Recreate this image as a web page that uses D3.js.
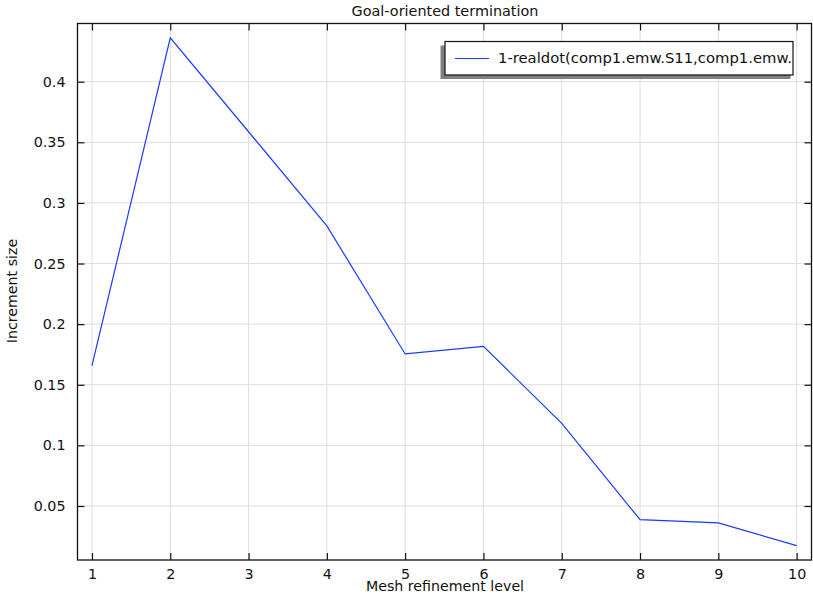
<!DOCTYPE html>
<html><head><meta charset="utf-8">
<script src="https://cdn.jsdelivr.net/npm/d3@7"></script>
<style>body{margin:0;background:#fff}svg{display:block;font-family:"DejaVu Sans",sans-serif}</style>
</head><body><svg id="c" width="813" height="596"></svg>
<script>
const levels = [1,2,3,4,5,6,7,8,9,10];
const increments = [0.1657,0.4362,0.3587,0.281,0.1754,0.1817,0.1182,0.0387,0.036,0.0173];
const xTicks = [1,2,3,4,5,6,7,8,9,10];
const yTicks = [0.05,0.1,0.15,0.2,0.25,0.3,0.35,0.4];
const title = "Goal-oriented termination";
const xLabel = "Mesh refinement level";
const yLabel = "Increment size";
const legendLabel = "1-realdot(comp1.emw.S11,comp1.emw.";

const svg = d3.select("#c");
const L=77.5, R=811.5, T=23.5, B=560;
const x = d3.scaleLinear().domain([0.815,10.19]).range([L,R]);
const y = d3.scaleLinear().domain([0.00545,0.448]).range([B,T]);

// grid
svg.append("g").selectAll("line").data(xTicks).join("line")
  .attr("x1",d=>x(d)).attr("x2",d=>x(d)).attr("y1",T).attr("y2",B)
  .attr("stroke","#dedede").attr("stroke-width",1);
svg.append("g").selectAll("line").data(yTicks).join("line")
  .attr("y1",d=>y(d)).attr("y2",d=>y(d)).attr("x1",L).attr("x2",R)
  .attr("stroke","#dedede").attr("stroke-width",1);

// axes with inward ticks
const fmt = d=>String(+d.toFixed(2));
const ax = (g,axis)=>{g.call(axis);g.select(".domain").remove();g.selectAll("text").attr("font-size",14.3).attr("font-family","DejaVu Sans").attr("fill","#111");g.selectAll(".tick line").attr("stroke","#111").attr("stroke-width",1.2);};
svg.append("g").attr("transform",`translate(0,${B})`).call(g=>ax(g,d3.axisBottom(x).tickValues(xTicks).tickFormat(d3.format("d")).tickSizeInner(-7).tickPadding(9)));
svg.append("g").attr("transform",`translate(0,${T})`).call(g=>ax(g,d3.axisTop(x).tickValues(xTicks).tickFormat("").tickSizeInner(-7)));
svg.append("g").attr("transform",`translate(${L},0)`).call(g=>ax(g,d3.axisLeft(y).tickValues(yTicks).tickFormat(fmt).tickSizeInner(-7).tickPadding(12)));
svg.append("g").attr("transform",`translate(${R},0)`).call(g=>ax(g,d3.axisRight(y).tickValues(yTicks).tickFormat("").tickSizeInner(-7)));

// frame
svg.append("rect").attr("x",L).attr("y",T).attr("width",R-L).attr("height",B-T)
  .attr("fill","none").attr("stroke","#111").attr("stroke-width",1.3);

// line
svg.append("path").datum(levels.map((l,i)=>[l,increments[i]]))
  .attr("d",d3.line().x(d=>x(d[0])).y(d=>y(d[1])))
  .attr("fill","none").attr("stroke","#1a3aff").attr("stroke-width",1.2);

// legend
const lg = svg.append("g");
lg.append("rect").attr("x",440.5).attr("y",45.5).attr("width",350).attr("height",33.5).attr("fill","#808080");
lg.append("rect").attr("x",445).attr("y",41.5).attr("width",348).attr("height",33.5).attr("fill","#fff").attr("stroke","#111").attr("stroke-width",1.2);
lg.append("line").attr("x1",455).attr("x2",489).attr("y1",58.5).attr("y2",58.5).attr("stroke","#1a3aff").attr("stroke-width",1.2);
lg.append("text").attr("x",498).attr("y",63).attr("font-size",14.8).attr("fill","#111").text(legendLabel);

// titles
svg.append("text").attr("x",445).attr("y",16).attr("text-anchor","middle").attr("font-size",14.4).attr("fill","#111").text(title);
svg.append("text").attr("x",445).attr("y",591).attr("text-anchor","middle").attr("font-size",14.2).attr("fill","#111").text(xLabel);
svg.append("text").attr("transform","translate(16.5,291) rotate(-90)").attr("text-anchor","middle").attr("font-size",14.2).attr("fill","#111").text(yLabel);
</script></body></html>
